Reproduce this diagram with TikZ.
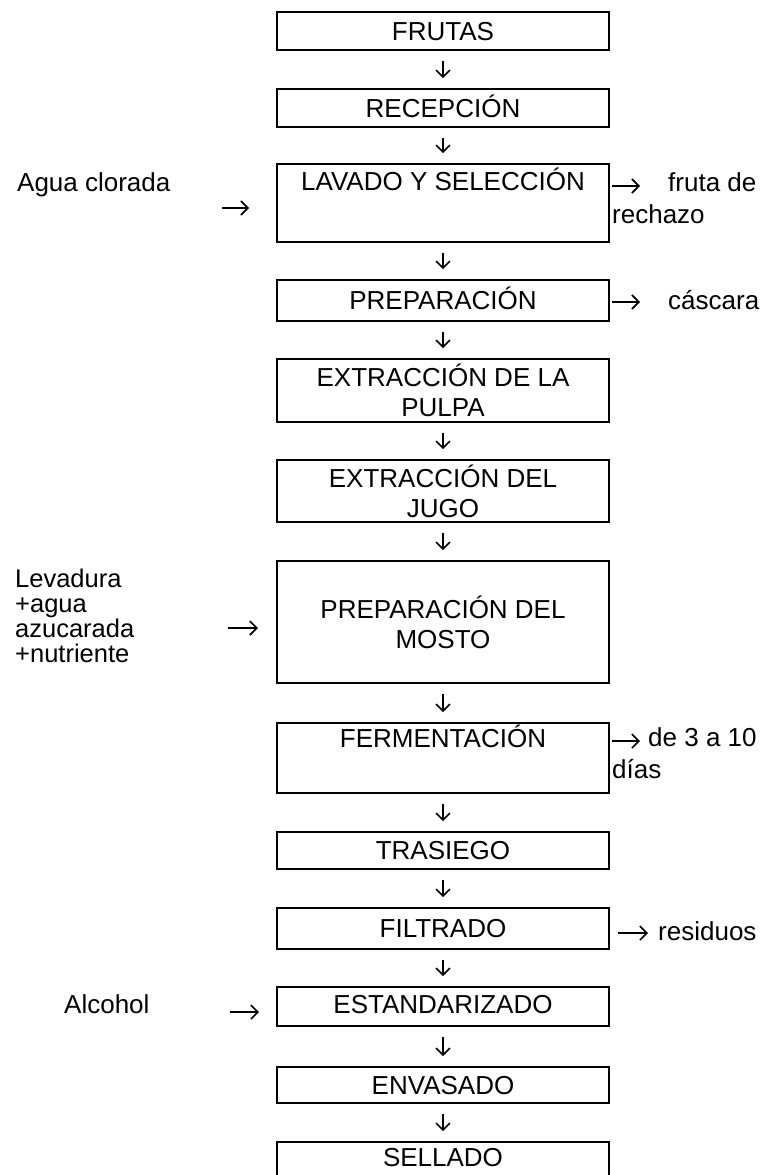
\documentclass[tikz,border=0pt]{standalone}
\usepackage{fontspec}
\setmainfont{Liberation Sans}
\usetikzlibrary{arrows.meta}
\newcommand{\boxfont}{\fontsize{26}{30}\selectfont}
\newcommand{\sidefont}{\fontsize{26}{32}\selectfont}
\newcommand{\levfont}{\fontsize{25.5}{25}\selectfont}
\tikzset{
  bx/.style={draw, line width=1.6pt, minimum width=332pt, inner sep=0pt, font=\boxfont, align=center},
  varr/.style={line width=1.6pt, -{Straight Barb[length=7pt,width=14pt]}, shorten >=10pt, shorten <=10pt},
  harr/.style={line width=1.6pt, -{Straight Barb[length=7pt,width=14pt]}},
  side/.style={inner sep=0pt, font=\sidefont, align=left, anchor=base west},
  lev/.style={inner sep=0pt, font=\levfont, align=left, anchor=base west}
}
\begin{document}
\begin{tikzpicture}[x=1pt,y=-1pt]
\useasboundingbox (0,0) rectangle (772,1175);
% main boxes
\node[bx, minimum height=38pt, text height=28.3pt, text depth=9.7pt] (n1) at (443,31) {FRUTAS};
\node[bx, minimum height=38pt, text height=28.3pt, text depth=9.7pt] (n2) at (443,108) {RECEPCIÓN};
\node[bx, minimum height=78pt, text height=26pt, text depth=52pt] (n3) at (443,203) {LAVADO Y SELECCIÓN};
\node[bx, minimum height=41pt, text height=29.8pt, text depth=11.2pt] (n4) at (443,300.5) {PREPARACIÓN};
\node[bx, minimum height=63pt] (n5) at (443,390.5) {EXTRACCIÓN DE LA\\PULPA};
\node[bx, minimum height=62pt] (n6) at (443,491) {EXTRACCIÓN DEL\\JUGO};
\node[bx, minimum height=122pt] (n7) at (443,622) {PREPARACIÓN DEL\\MOSTO};
\node[bx, minimum height=70pt, text height=24pt, text depth=46pt] (n8) at (443,758) {FERMENTACIÓN};
\node[bx, minimum height=37pt, text height=27.8pt, text depth=9.2pt] (n9) at (443,850.5) {TRASIEGO};
\node[bx, minimum height=41pt, text height=29.8pt, text depth=11.2pt] (n10) at (443,928.5) {FILTRADO};
\node[bx, minimum height=39pt, text height=26.5pt, text depth=12.5pt] (n11) at (443,1006.5) {ESTANDARIZADO};
\node[bx, minimum height=36pt, text height=27.3pt, text depth=8.7pt] (n12) at (443,1085) {ENVASADO};
\node[bx, minimum height=36pt, text height=24.3pt, text depth=11.7pt] (n13) at (443,1160) {SELLADO};
% vertical arrows
\foreach \a/\b in {n1/n2,n2/n3,n3/n4,n4/n5,n5/n6,n6/n7,n7/n8,n8/n9,n9/n10,n10/n11,n11/n12,n12/n13}
  \draw[varr] (\a) -- (\b);
% left inputs
\node[side] (agua) at (17,191) {Agua clorada};
\coordinate (aguaS) at (222,208);
\coordinate (aguaE) at (249,208);
\draw[harr] (aguaS) -- (aguaE);
\node[lev] (lev) at (15,662) {Levadura\\+agua\\azucarada\\+nutriente};
\coordinate (levS) at (228,628);
\coordinate (levE) at (258,628);
\draw[harr] (levS) -- (levE);
\node[side] (alc) at (64,1013) {Alcohol};
\coordinate (alcS) at (230,1012);
\coordinate (alcE) at (259,1012);
\draw[harr] (alcS) -- (alcE);
% right outputs
\node[side] (rech) at (612,223) {\hspace*{56pt}fruta de\\rechazo};
\coordinate (rechS) at (612,186);
\coordinate (rechE) at (640,186);
\draw[harr] (rechS) -- (rechE);
\node[side] (casc) at (668,309) {cáscara};
\coordinate (cascS) at (612,302);
\coordinate (cascE) at (640,302);
\draw[harr] (cascS) -- (cascE);
\node[side] (dias) at (612,778) {\hspace*{36pt}de 3 a 10\\días};
\coordinate (diasS) at (612,741);
\coordinate (diasE) at (640,741);
\draw[harr] (diasS) -- (diasE);
\node[side] (resid) at (658,940) {residuos};
\coordinate (residS) at (618,933);
\coordinate (residE) at (648,933);
\draw[harr] (residS) -- (residE);
\end{tikzpicture}
\end{document}
